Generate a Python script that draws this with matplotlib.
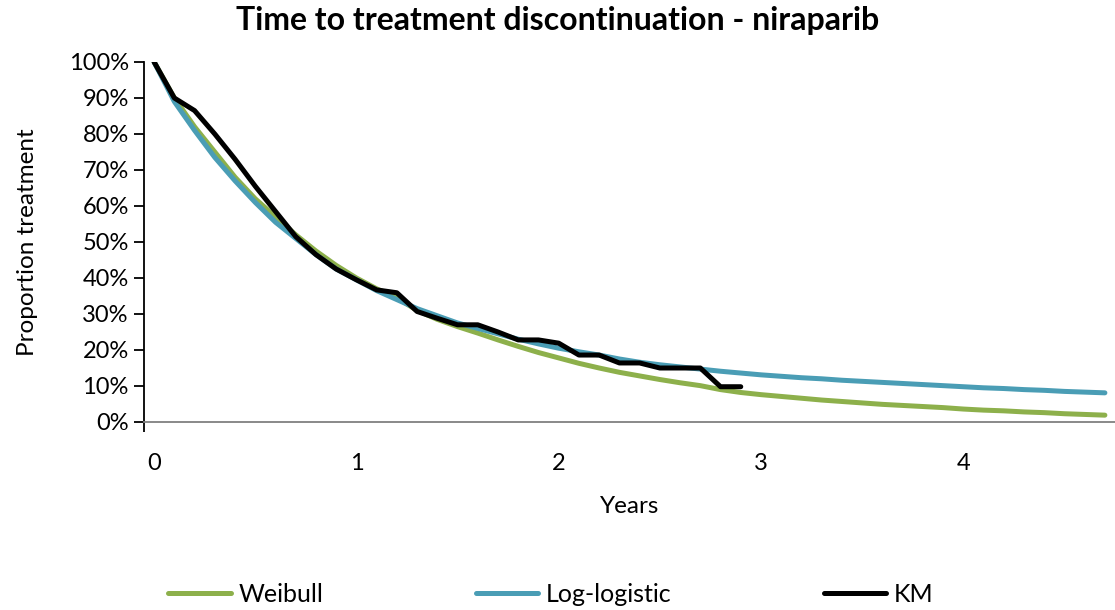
import numpy as np
import matplotlib
matplotlib.use("Agg")
import matplotlib.pyplot as plt
from matplotlib.ticker import PercentFormatter

plt.rcParams['font.family'] = ['Lato', 'DejaVu Sans']

# time grid (years) and survival values (%)
years = [round(0.1 * i, 1) for i in range(48)]

weibull = [100, 90, 82, 75, 68, 62, 57, 52, 47.5, 43.5,
           40, 37, 34.5, 31, 28.5, 26.5, 24.7, 22.8, 21, 19.3,
           17.8, 16.3, 15, 13.8, 12.8, 11.8, 10.9, 10.1, 9.0, 8.2,
           7.6, 7.1, 6.6, 6.1, 5.7, 5.3, 4.9, 4.6, 4.3, 4.0,
           3.6, 3.3, 3.1, 2.8, 2.6, 2.3, 2.1, 1.9]

loglogistic = [100, 89, 81, 73.5, 67, 61, 55.5, 51, 46.5, 42.5,
               39.5, 36.5, 34, 31.5, 29.5, 27.5, 26, 24.5, 23, 21.7,
               20.5, 19.5, 18.6, 17.5, 16.6, 15.9, 15.3, 14.7, 14.1, 13.6,
               13.1, 12.7, 12.3, 12.0, 11.6, 11.3, 11.0, 10.7, 10.4, 10.1,
               9.8, 9.5, 9.3, 9.0, 8.8, 8.5, 8.3, 8.1]

km_years = [round(0.1 * i, 1) for i in range(30)]
km = [100, 90, 86.5, 80, 73, 65.5, 58.5, 51.5, 46.5, 42.5,
      39.5, 36.7, 35.9, 30.7, 28.8, 27, 27, 25, 22.8, 22.8,
      21.9, 18.6, 18.6, 16.4, 16.4, 15, 15, 15, 9.8, 9.8]

fig = plt.figure(figsize=(11.15, 6.10), dpi=100)
ax = fig.add_axes([144 / 1115, 1 - 422 / 610, 971 / 1115, 360 / 610])

ax.plot(years, weibull, color="#8DB04B", lw=3.6, label="Weibull", solid_capstyle="round")
ax.plot(years, loglogistic, color="#4A9DB5", lw=3.6, label="Log-logistic", solid_capstyle="round")
ax.plot(km_years, km, color="black", lw=3.6, label="KM", solid_capstyle="round")

ax.set_xlim(-0.05, 4.75)
ax.set_ylim(0, 100)
ax.set_yticks(np.arange(0, 101, 10))
ax.yaxis.set_major_formatter(PercentFormatter(decimals=0))
ax.set_xticks([0, 1, 2, 3, 4])
ax.tick_params(axis="x", length=0, pad=22, labelsize=17)
ax.tick_params(axis="y", length=7, width=1.3, direction="out", labelsize=17, pad=4)
ax.set_xticks([-0.05], minor=True)
ax.tick_params(axis="x", which="minor", length=7, width=1.3, direction="out")

for s in ["top", "right"]:
    ax.spines[s].set_visible(False)
ax.spines["left"].set_linewidth(1.3)
ax.spines["bottom"].set_color("#808080")
ax.spines["bottom"].set_linewidth(1.3)

ax.set_xlabel("Years", fontsize=17.5, labelpad=16)
ax.set_ylabel("Proportion treatment", fontsize=17.5, labelpad=22)
fig.suptitle("Time to treatment discontinuation - niraparib", fontsize=23, fontweight="bold", y=0.99)

fig.legend(loc="lower center", bbox_to_anchor=(0.494, -0.03), ncol=3, frameon=False,
           fontsize=18, handlelength=2.5, columnspacing=6.1, handletextpad=0.3)

fig.savefig("out.png", dpi=100)
